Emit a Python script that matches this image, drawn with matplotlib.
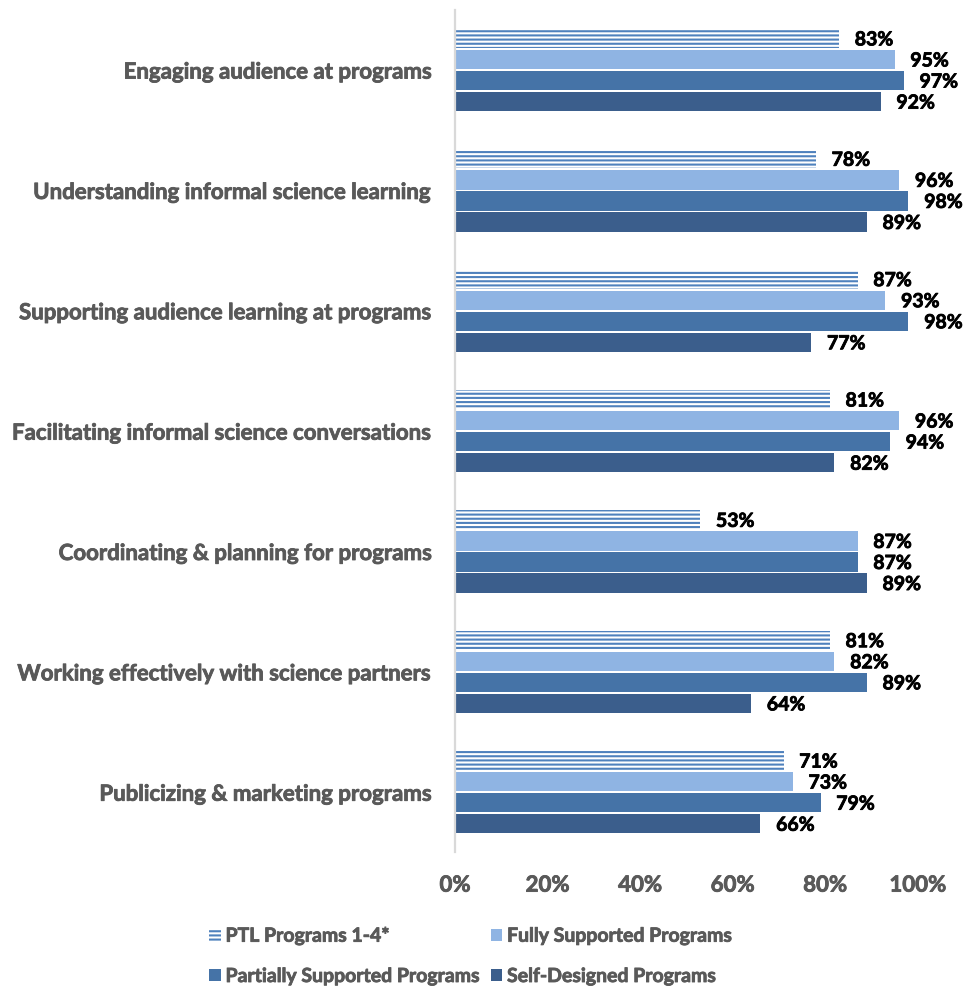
import matplotlib
matplotlib.use("Agg")
import matplotlib.pyplot as plt
import matplotlib.patheffects as pe
from matplotlib.patches import Patch
import numpy as np

categories = [
    "Engaging audience at programs",
    "Understanding informal science learning",
    "Supporting audience learning at programs",
    "Facilitating informal science conversations",
    "Coordinating & planning for programs",
    "Working effectively with science partners",
    "Publicizing & marketing programs",
]
series_names = [
    "PTL Programs 1-4*",
    "Fully Supported Programs",
    "Partially Supported Programs",
    "Self-Designed Programs",
]
ptl = [83, 78, 87, 81, 53, 81, 71]
fully = [95, 96, 93, 96, 87, 82, 73]
partially = [97, 98, 98, 94, 87, 89, 79]
self_designed = [92, 89, 77, 82, 89, 64, 66]
x_ticks = [0, 20, 40, 60, 80, 100]

plt.rcParams['font.family'] = ['Lato', 'DejaVu Sans']
plt.rcParams['hatch.linewidth'] = 1.5

grey = '#595959'
hatch_col = '#4f81bd'
colors = ['white', '#8fb4e3', '#4573a7', '#3b5e8c']


def heavy(color):
    # thicken the bold glyphs a little
    return [pe.withStroke(linewidth=0.6, foreground=color)]


fig = plt.figure(figsize=(9.66, 9.9), dpi=100)
ax = fig.add_axes([0.471, 0.139, 0.479, 0.851])

y = np.arange(len(categories))
pitch = 0.175
height = 0.16
all_series = [ptl, fully, partially, self_designed]

for k, vals in enumerate(all_series):
    ypos = y + (k - 1.5) * pitch
    if k == 0:
        ax.barh(ypos, vals, height=height, color='white', edgecolor=hatch_col,
                linewidth=0, hatch='----')
    else:
        ax.barh(ypos, vals, height=height, color=colors[k], linewidth=0)
    for yy, v in zip(ypos, vals):
        ax.text(v + 3.4, yy + 0.012, f"{v}%", va='center', ha='left',
                fontsize=14, fontweight='bold', color='black',
                path_effects=heavy('black'))

ax.set_xlim(0, 100)
ax.set_ylim(len(categories) - 0.5, -0.5)
ax.set_yticks(y)
ax.set_yticklabels(categories, fontsize=16, fontweight='bold', color=grey)
ax.set_xticks(x_ticks)
ax.set_xticklabels([f"{t}%" for t in x_ticks], fontsize=16, fontweight='bold', color=grey)
for lbl in ax.get_yticklabels() + ax.get_xticklabels():
    lbl.set_path_effects(heavy(grey))
ax.tick_params(axis='both', length=0)
ax.tick_params(axis='y', pad=16)
ax.tick_params(axis='x', pad=16)
for s in ['top', 'right', 'bottom']:
    ax.spines[s].set_visible(False)
ax.spines['left'].set_color('#d9d9d9')
ax.spines['left'].set_linewidth(1.6)

handles = [
    Patch(facecolor='white', edgecolor=hatch_col, linewidth=0, hatch='----', label=series_names[0]),
    Patch(facecolor=colors[2], label=series_names[2]),
    Patch(facecolor=colors[1], label=series_names[1]),
    Patch(facecolor=colors[3], label=series_names[3]),
]
leg = fig.legend(handles=handles, ncol=2, loc='center', bbox_to_anchor=(0.488, 0.034),
                 frameon=False, handlelength=0.6, handleheight=0.6, handletextpad=0.25,
                 columnspacing=0.45, labelspacing=1.2,
                 prop={'size': 14, 'weight': 'bold'})
for t in leg.get_texts():
    t.set_color(grey)
    t.set_path_effects(heavy(grey))

fig.savefig("out.png", dpi=100)
